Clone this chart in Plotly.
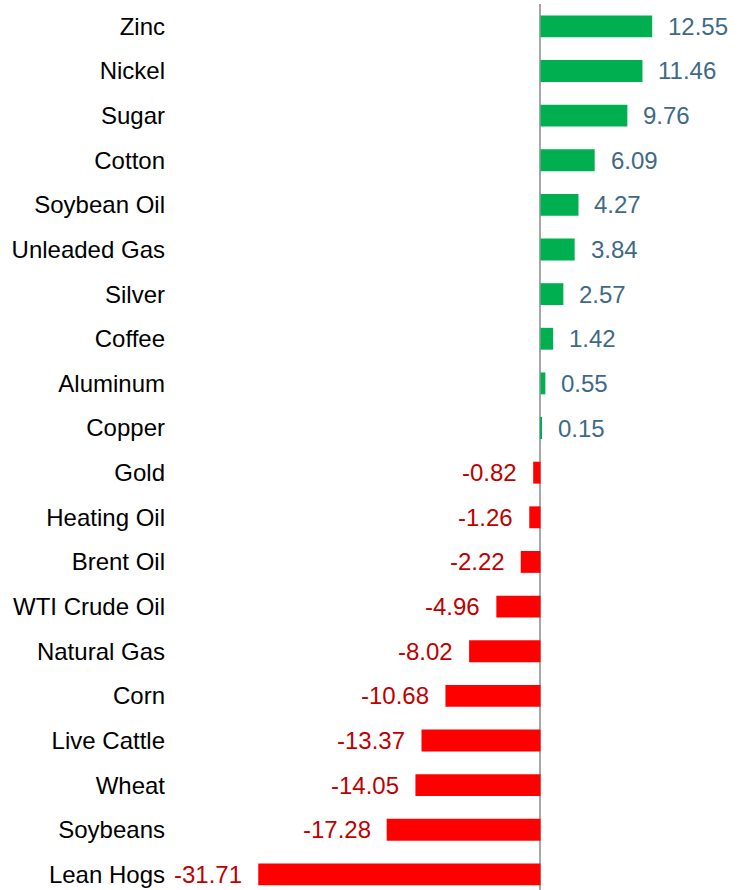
import plotly.graph_objects as go

categories = ["Zinc", "Nickel", "Sugar", "Cotton", "Soybean Oil", "Unleaded Gas", "Silver",
              "Coffee", "Aluminum", "Copper", "Gold", "Heating Oil", "Brent Oil",
              "WTI Crude Oil", "Natural Gas", "Corn", "Live Cattle", "Wheat", "Soybeans",
              "Lean Hogs"]
values = [12.55, 11.46, 9.76, 6.09, 4.27, 3.84, 2.57, 1.42, 0.55, 0.15, -0.82, -1.26, -2.22,
          -4.96, -8.02, -10.68, -13.37, -14.05, -17.28, -31.71]

POS_BAR = "#00B050"
NEG_BAR = "#FF0000"
POS_TXT = "#3E6A86"
NEG_TXT = "#C00000"
FONT = "Liberation Sans, Arial, sans-serif"

fig = go.Figure()
fig.add_trace(go.Bar(
    x=values, y=categories, orientation="h",
    marker=dict(color=[POS_BAR if v >= 0 else NEG_BAR for v in values], line=dict(width=0)),
    width=0.49, hoverinfo="x+y",
))

for c, v in zip(categories, values):
    fig.add_annotation(
        x=v, y=c, text=f"{v:.2f}", showarrow=False,
        xanchor="left" if v >= 0 else "right",
        xshift=14 if v >= 0 else -14,
        font=dict(family=FONT, size=24, color=POS_TXT if v >= 0 else NEG_TXT),
    )

fig.update_layout(
    width=742, height=890,
    margin=dict(l=172, r=0, t=3.5, b=0),
    paper_bgcolor="white", plot_bgcolor="white",
    showlegend=False,
    font=dict(family=FONT, size=24, color="#000000"),
    xaxis=dict(range=[-41.4, 22.64], showgrid=False, showticklabels=False, ticks="",
               zeroline=True, zerolinecolor="#A6A6A6", zerolinewidth=2, fixedrange=True),
    yaxis=dict(type="category", range=[19.35, -0.5], showgrid=False, ticks="",
               tickfont=dict(family=FONT, size=24, color="#000000"),
               ticklabelstandoff=6, zeroline=False, fixedrange=True),
)

fig.write_html("out.html", config={"displayModeBar": False},
               post_script="document.body.style.margin='0';document.body.style.overflow='hidden';")
